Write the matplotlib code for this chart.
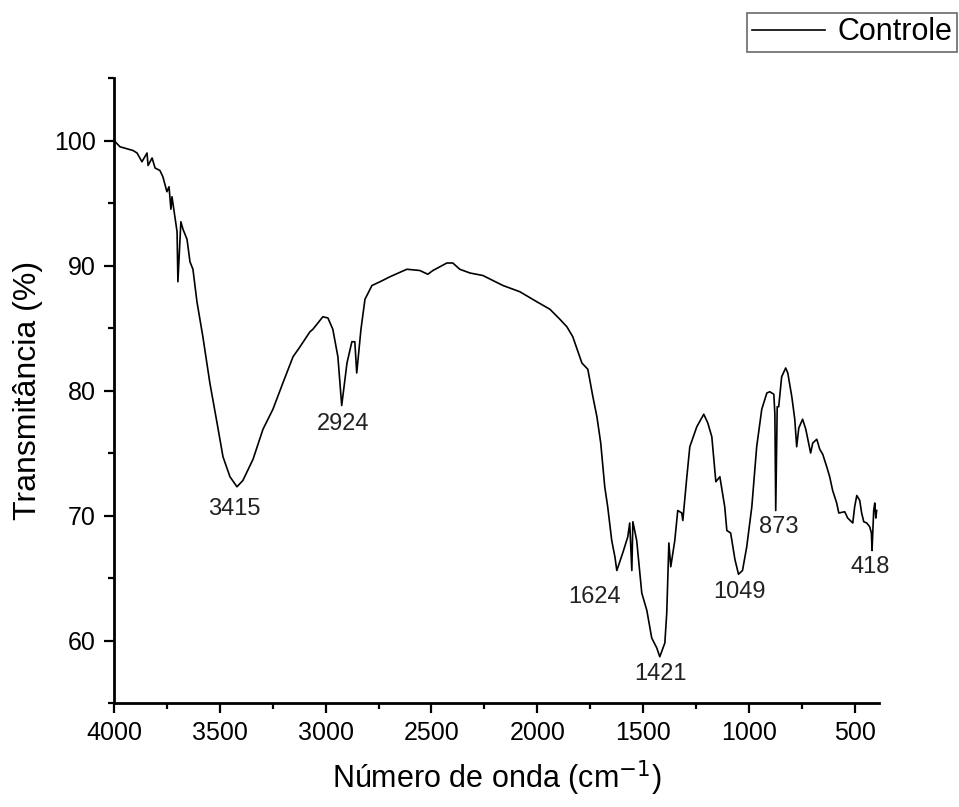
import matplotlib
matplotlib.use("Agg")
import matplotlib.pyplot as plt
from matplotlib.ticker import MultipleLocator

plt.rcParams['font.family'] = ['Liberation Sans', 'DejaVu Sans']

wavenumber = [4000, 3972, 3910, 3891, 3868, 3844, 3839, 3820, 3806, 3783, 3769, 3750,
              3740, 3731, 3726, 3712, 3702, 3698, 3684, 3674, 3655, 3641, 3627, 3608,
              3580, 3547, 3513, 3485, 3452, 3419, 3391, 3343, 3296, 3249, 3202, 3154,
              3121, 3074, 3060, 3013, 2989, 2966, 2942, 2924, 2899, 2876, 2862, 2853,
              2833, 2814, 2781, 2743, 2696, 2616, 2555, 2517, 2493, 2427, 2399, 2366,
              2318, 2257, 2162, 2082, 2002, 1940, 1893, 1860, 1832, 1789, 1761, 1737,
              1718, 1700, 1681, 1667, 1648, 1633, 1624, 1596, 1572, 1563, 1553, 1548,
              1530, 1506, 1482, 1459, 1435, 1421, 1397, 1388, 1378, 1369, 1350, 1336,
              1317, 1312, 1293, 1279, 1246, 1213, 1194, 1175, 1156, 1137, 1114, 1104,
              1086, 1066, 1049, 1030, 1010, 986, 963, 939, 915, 901, 882, 877, 873,
              866, 859, 845, 826, 816, 797, 783, 774, 764, 746, 731, 708, 698, 679,
              665, 651, 632, 618, 604, 585, 575, 547, 533, 509, 500, 490, 476, 467,
              457, 443, 429, 421, 418, 410, 405, 400, 396]
transmittance = [100.0, 99.5, 99.2, 99.0, 98.3, 99.0, 98.0, 98.6, 97.8, 97.6, 97.1, 95.9,
                 96.3, 94.5, 95.5, 93.9, 92.7, 88.7, 93.5, 92.9, 92.1, 90.3, 89.7, 87.1,
                 84.3, 80.6, 77.4, 74.7, 73.1, 72.3, 72.8, 74.5, 76.9, 78.5, 80.6, 82.7,
                 83.5, 84.7, 84.9, 85.9, 85.8, 84.9, 82.7, 78.8, 82.2, 83.9, 83.9, 81.4,
                 84.9, 87.3, 88.4, 88.7, 89.1, 89.7, 89.6, 89.3, 89.6, 90.2, 90.2, 89.7,
                 89.4, 89.2, 88.4, 87.9, 87.1, 86.5, 85.7, 85.1, 84.3, 82.2, 81.7, 79.5,
                 77.9, 75.8, 72.3, 70.7, 68.0, 66.7, 65.6, 67.0, 68.3, 69.4, 65.6, 69.5,
                 68.0, 63.8, 62.4, 60.2, 59.4, 58.7, 59.8, 62.2, 67.8, 65.9, 68.0, 70.4,
                 70.2, 69.6, 73.1, 75.5, 77.1, 78.1, 77.4, 76.3, 72.7, 73.1, 70.7, 68.8,
                 68.6, 66.5, 65.3, 65.6, 67.5, 70.7, 75.5, 78.5, 79.8, 79.9, 79.7, 78.1,
                 70.4, 78.7, 78.7, 81.1, 81.8, 81.4, 79.5, 77.7, 75.5, 77.0, 77.7, 76.9,
                 75.0, 75.8, 76.1, 75.3, 74.9, 73.9, 73.1, 72.0, 71.0, 70.2, 70.3, 69.8,
                 69.4, 70.7, 71.6, 71.2, 70.2, 69.5, 69.4, 69.1, 68.6, 67.2, 70.4, 71.0,
                 69.8, 70.4]

peak_labels = ["3415", "2924", "1624", "1421", "1049", "873", "418"]
peak_label_x = [3433, 2918, 1728, 1416, 1043, 859, 429]
peak_label_y = [70.5, 77.3, 63.5, 57.3, 63.9, 69.1, 65.9]

fig = plt.figure(figsize=(9.59, 8.07), dpi=100)
ax = fig.add_axes([114/959, 104/807, 765/959, 625/807])

ax.plot(wavenumber, transmittance, color='black', lw=1.2, label='Controle')

ax.set_xlim(4000, 385)
ax.set_ylim(55, 105)
ax.xaxis.set_major_locator(MultipleLocator(500))
ax.xaxis.set_minor_locator(MultipleLocator(250))
ax.yaxis.set_major_locator(MultipleLocator(10))
ax.yaxis.set_minor_locator(MultipleLocator(5))
ax.set_xticks([4000, 3500, 3000, 2500, 2000, 1500, 1000, 500])
ax.set_yticks([60, 70, 80, 90, 100])

for s in ['top', 'right']:
    ax.spines[s].set_visible(False)
for s in ['left', 'bottom']:
    ax.spines[s].set_linewidth(2.0)

ax.tick_params(which='major', direction='out', length=7, width=1.6, labelsize=18, pad=6)
ax.tick_params(which='minor', direction='out', length=4, width=1.6)

ax.set_xlabel('Número de onda (cm$^{-1}$)', fontsize=22, labelpad=10)
ax.set_ylabel('Transmitância (%)', fontsize=23, labelpad=8)

for t, xx, yy in zip(peak_labels, peak_label_x, peak_label_y):
    ax.text(xx, yy, t, fontsize=17, ha='center', va='center', color='#222222')

leg = fig.legend(loc='upper right', bbox_to_anchor=(0.998, 0.984), fontsize=22,
                 frameon=True, fancybox=False, edgecolor='#444444',
                 handlelength=2.4, handletextpad=0.4, borderpad=0.15,
                 borderaxespad=0)
leg.get_frame().set_linewidth(1.2)

fig.savefig('out.png', dpi=100)
